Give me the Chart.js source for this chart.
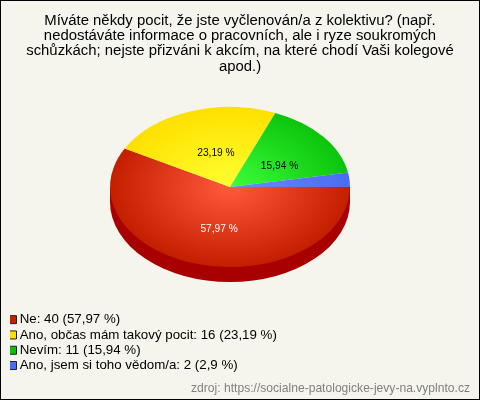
<!DOCTYPE html>
<html>
<head>
<meta charset="utf-8">
<title>Vyčlenění z kolektivu</title>
<script src="https://cdn.jsdelivr.net/npm/chart.js@4"></script>
<style>
  html, body { margin: 0; padding: 0; background: #f5f5ee; }
  canvas { display: block; }
</style>
</head>
<body>
<canvas id="graf" width="480" height="400"></canvas>
<script>
const kategorie = ["Ne", "Ano, občas mám takový pocit", "Nevím", "Ano, jsem si toho vědom/a"];
const hodnoty = [40, 16, 11, 2];
const procenta = ["57,97", "23,19", "15,94", "2,9"];
const titulek = [
  "Míváte někdy pocit, že jste vyčlenován/a z kolektivu? (např.",
  "nedostáváte informace o pracovních, ale i ryze soukromých",
  "schůzkách; nejste přizváni k akcím, na které chodí Vaši kolegové",
  "apod.)"
];
const zdroj = "zdroj: https://socialne-patologicke-jevy-na.vyplnto.cz";

// barvy: [stred, okraj] gradientu vyseče
const barvy = [["#ff5a3c", "#c41e00"], ["#ffff30", "#ffe000"], ["#3cff3c", "#0cc40c"], ["#6a8cff", "#4a6cf0"]];
const barvyLegendy = ["#c42000", "#ffe000", "#0cc00c", "#4a6cf0"];
const barvaBoku = "#a80000";
const popiskyBarvy = ["#ffffff", "#000000", "#000000"];
const posunPopiskuX = [4, 6, 3];
const posunPopiskuY = [3, 4, 4];

// stred a zplosteni elipsy, hloubka boku
const stredX = 230, stredY = 187, polomer = 120, zplosteni = 80 / 120, hloubka = 15;

// Chart.js kresli jen kruh, tak se vysece kresli ve zmacknutem kontextu
const pie3d = {
  id: "pie3d",
  beforeDraw(chart) {
    const ctx = chart.ctx;
    ctx.save();
    ctx.fillStyle = "#f5f5ee";
    ctx.fillRect(0, 0, 480, 400);
    ctx.strokeStyle = "#000";
    ctx.lineWidth = 1;
    ctx.strokeRect(0.5, 0.5, 479, 399);
    ctx.restore();
  },
  afterLayout(chart) {
    chart.legend.top = 311;
    chart.legend.bottom = 399;
  },
  beforeDatasetsDraw(chart) {
    const ctx = chart.ctx;
    const arc = chart.getDatasetMeta(0).data[0];
    ctx.save();
    ctx.fillStyle = barvaBoku;
    ctx.beginPath();
    ctx.ellipse(stredX, stredY + hloubka, polomer, polomer * zplosteni, 0, 0, Math.PI);
    ctx.lineTo(stredX - polomer, stredY);
    ctx.lineTo(stredX + polomer, stredY);
    ctx.closePath();
    ctx.fill();
    ctx.translate(stredX, stredY);
    ctx.scale(1, zplosteni);
    ctx.translate(-arc.x, -arc.y);
  },
  afterDatasetsDraw(chart) {
    const ctx = chart.ctx;
    ctx.restore();
    const meta = chart.getDatasetMeta(0);
    ctx.save();
    ctx.font = "10.2px 'Liberation Sans'";
    ctx.textAlign = "center";
    ctx.textBaseline = "middle";
    meta.data.forEach((arc, i) => {
      if (i >= popiskyBarvy.length) return;
      const p = arc.getCenterPoint();
      ctx.fillStyle = popiskyBarvy[i];
      ctx.fillText(procenta[i] + " %", stredX + posunPopiskuX[i] + (p.x - arc.x), stredY + posunPopiskuY[i] + (p.y - arc.y) * zplosteni);
    });
    ctx.restore();
  }
};

new Chart(document.getElementById("graf"), {
  type: "pie",
  data: {
    labels: kategorie,
    datasets: [{
      data: hodnoty,
      radius: polomer,
      borderWidth: 0,
      backgroundColor(c) {
        const area = c.chart.chartArea;
        if (!area) return barvyLegendy[c.dataIndex];
        const x = (area.left + area.right) / 2, y = (area.top + area.bottom) / 2;
        const g = c.chart.ctx.createRadialGradient(x, y, 0, x, y, polomer);
        g.addColorStop(0, barvy[c.dataIndex][0]);
        g.addColorStop(1, barvy[c.dataIndex][1]);
        return g;
      }
    }]
  },
  options: {
    responsive: false,
    animation: false,
    rotation: 90,
    layout: { padding: { left: 10, right: 10, bottom: 2, top: 0 } },
    plugins: {
      tooltip: { enabled: false },
      title: {
        display: true,
        text: titulek,
        color: "#000",
        font: { family: "'Liberation Sans'", size: 14.9, weight: "normal", lineHeight: 1.03 },
        padding: { top: 13, bottom: 5 }
      },
      subtitle: {
        display: true,
        text: zdroj,
        position: "bottom",
        align: "end",
        color: "#808080",
        font: { family: "'Liberation Sans'", size: 12.1, weight: "normal" },
        padding: { top: 0, bottom: 2 }
      },
      legend: {
        position: "chartArea",
        align: "start",
        labels: {
          usePointStyle: true,
          pointStyle: "rect",
          boxWidth: 1,
          boxHeight: 8,
          padding: 2,
          color: "#000",
          font: { family: "'Liberation Sans'", size: 13.3 },
          generateLabels: () => kategorie.map((k, i) => ({
            text: k + ": " + hodnoty[i] + " (" + procenta[i] + " %)",
            fillStyle: barvyLegendy[i],
            strokeStyle: "#222",
            lineWidth: 1,
            pointStyle: "rect",
            datasetIndex: 0,
            index: i
          }))
        }
      }
    }
  },
  plugins: [pie3d]
});
</script>
</body>
</html>
